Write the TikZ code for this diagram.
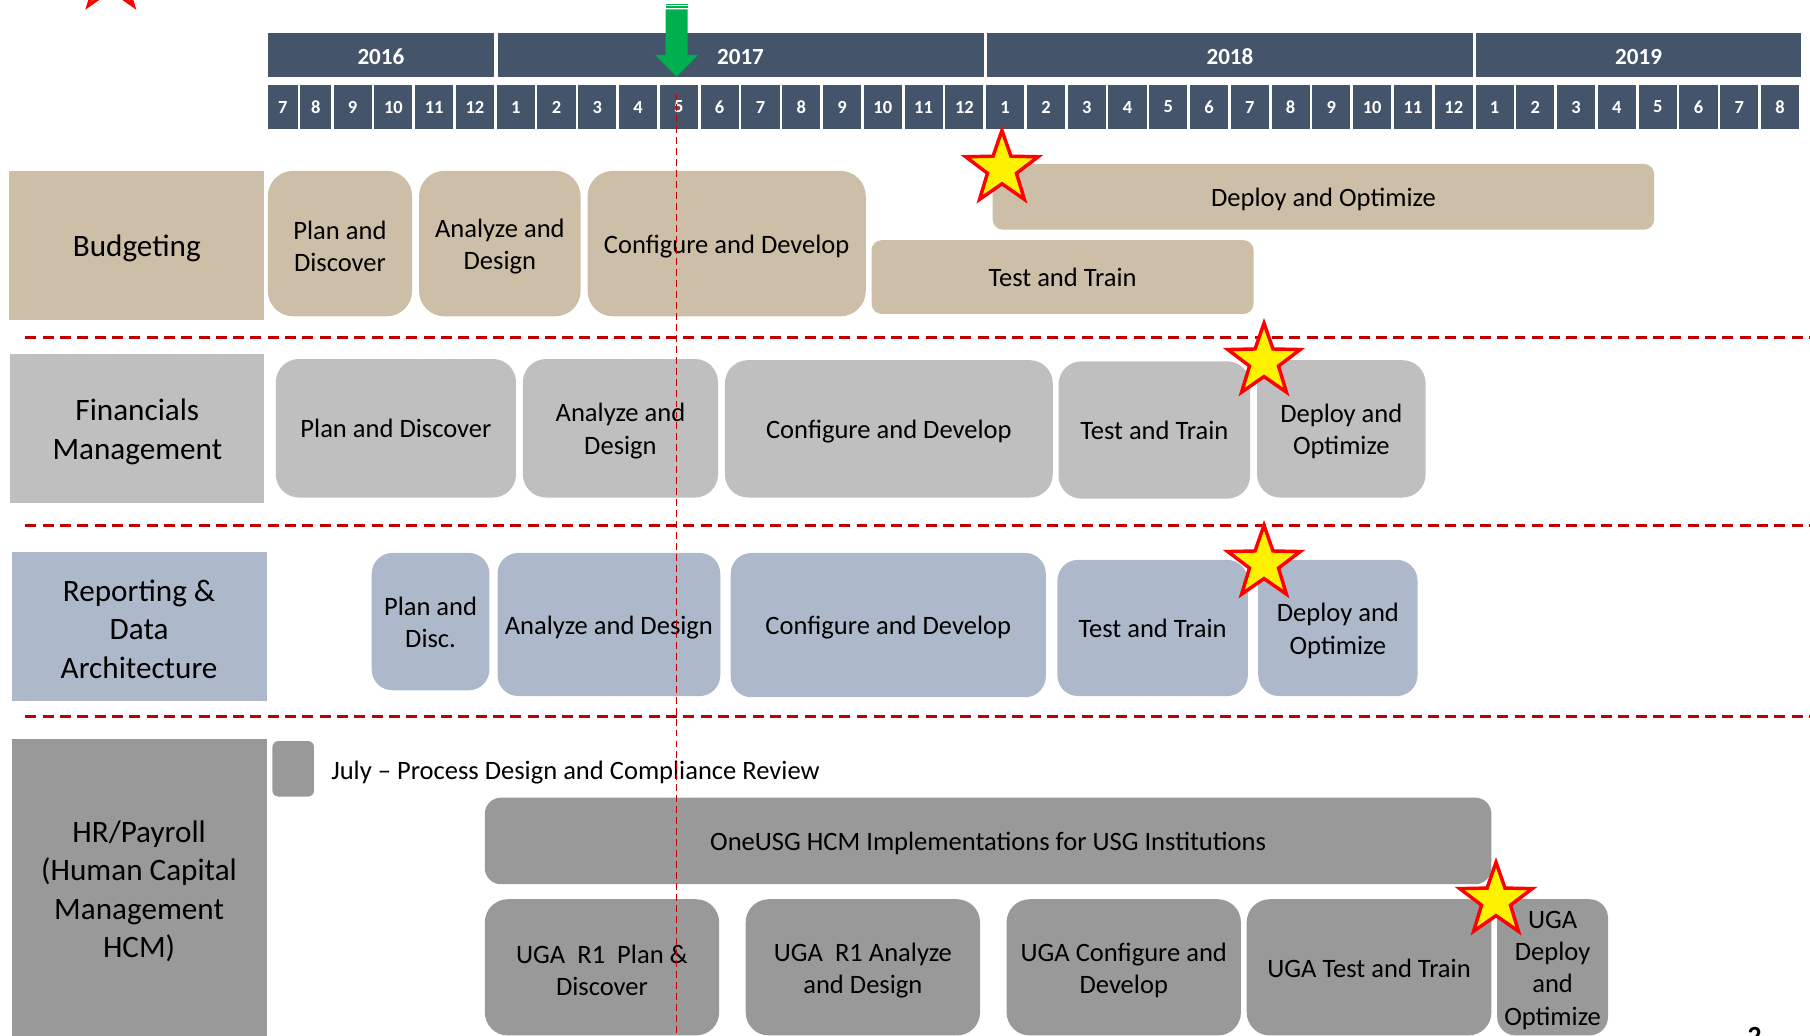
\documentclass[tikz,border=0pt]{standalone}
\usepackage{fontspec}
\setmainfont{Carlito}
\usetikzlibrary{shapes.geometric}
\definecolor{hdr}{HTML}{44546A}
\definecolor{tanc}{HTML}{CDBFA7}
\definecolor{finc}{HTML}{BFBFBF}
\definecolor{repc}{HTML}{ADB9CA}
\definecolor{hrc}{HTML}{999999}
\definecolor{dred}{HTML}{C00000}
\definecolor{grn}{HTML}{00B050}
% box node + text node shifted slightly down
\newcommand\bx[8]{\node[#2, minimum width={(#6-#4)*1pt}, minimum height={(#7-#5)*1pt}] (#1) at ({(#4+#6)/2},{(#5+#7)/2}) {};
  \node[#3] (#1t) at ({(#4+#6)/2},{(#5+#7)/2+2.5}) {#8};}
\begin{document}
\begin{tikzpicture}[x=1pt,y=-1pt,
  every node/.style={inner sep=0pt, outer sep=0pt},
  yr/.style={fill=hdr, text=white, font=\bfseries\fontsize{20}{24}\selectfont, text depth=0pt, text height=16pt},
  mc/.style={fill=hdr, text=white, font=\bfseries\fontsize{16}{19}\selectfont},
  cat/.style={align=center, font=\fontsize{27}{33.3}\selectfont},
  bt/.style={align=center, font=\fontsize{23}{28}\selectfont},
  bu/.style={bt, yshift=2pt},
  rb/.style={rounded corners=#1},
  starm/.style={star, star points=5, star point ratio=2.5, minimum size=66pt, fill=yellow, draw=red, line width=3pt},
  hdash/.style={dred, line width=2.5pt, dash pattern=on 9.5pt off 5.5pt},
  vdash/.style={dred, line width=1.3pt, dash pattern=on 6pt off 3.5pt}
]
\useasboundingbox (0,0) rectangle (1568,897);
\fill[white] (0,0) rectangle (1568,897);

% top-left partial star
\node[starm] (s0) at (96,-22) {};

% years
\node[yr, minimum width=196pt, minimum height=38pt] (y2016) at (330,48) {2016};
\node[yr, minimum width=421pt, minimum height=38pt] (y2017) at (641.5,48) {2017};
\node[yr, minimum width=421pt, minimum height=38pt] (y2018) at (1065.5,48) {2018};
\node[yr, minimum width=281pt, minimum height=38pt] (y2019) at (1419.5,48) {2019};

% months
\node[mc, minimum width=26pt, minimum height=37.5pt] (mJul) at (245,92.75) {7};
\node[mc, minimum width=27pt, minimum height=37.5pt] (mAug) at (273.5,92.75) {8};
\node[mc, minimum width=33pt, minimum height=37.5pt] (mSep) at (305.5,92.75) {9};
\foreach \k in {0,...,34}{
  \pgfmathtruncatemacro\mm{mod(\k+9,12)+1}
  \node[mc, minimum width=33pt, minimum height=37.5pt] (m\k) at ({340.8+35.33*\k},92.75) {\mm};
}

% green arrow (today marker)
\fill[grn] (576.6,3.5) rectangle (595.6,4.6);
\fill[grn] (576.6,5.6) rectangle (595.6,6.9);
\fill[grn] (576.6,8.2) -- (595.6,8.2) -- (595.6,47.6) -- (604.7,47.6) -- (586.1,66.4) -- (567.5,47.6) -- (576.6,47.6) -- cycle;

% categories
\bx{cBud}{fill=tanc}{cat}{8}{148}{229}{277}{Budgeting}
\bx{cFin}{fill=finc}{cat}{9}{307}{229}{436}{Financials\\Management}
\bx{cRep}{fill=repc}{cat}{10}{478}{231}{607}{Reporting \&\\Data\\Architecture}
\node[fill=hrc, minimum width=221pt, minimum height=262pt] (cHR) at (120.5,771) {};
\node[cat] (cHRt) at (120.5,772) {HR/Payroll\\(Human Capital\\Management\\HCM)};

% budgeting row
\bx{b1}{rb=22pt, fill=tanc}{bt}{232}{148}{357}{274}{Plan and\\Discover}
\bx{b2}{rb=22pt, fill=tanc}{bt}{363}{148}{503}{274}{Analyze and\\Design}
\bx{b3}{rb=22pt, fill=tanc}{bt}{509}{148}{750}{274}{Configure and Develop}
\bx{b4}{rb=9pt, fill=tanc}{bu}{755}{208}{1086}{272}{Test and Train}
\bx{b5}{rb=9pt, fill=tanc}{bt}{860}{142}{1433}{199}{Deploy and Optimize}

% financials row
\bx{f1}{rb=20pt, fill=finc}{bu}{239}{311}{447}{431}{Plan and Discover}
\bx{f2}{rb=20pt, fill=finc}{bt}{453}{311}{622}{431}{Analyze and\\Design}
\bx{f3}{rb=20pt, fill=finc}{bt}{628}{312}{912}{431}{Configure and Develop}
\bx{f4}{rb=20pt, fill=finc}{bu}{917}{313}{1083}{432}{Test and Train}
\bx{f5}{rb=20pt, fill=finc}{bt}{1089}{312}{1235}{431}{Deploy and\\Optimize}

% reporting row
\bx{r1}{rb=18pt, fill=repc}{bu}{322}{479}{424}{598}{Plan and\\Disc.}
\bx{r2}{rb=18pt, fill=repc}{bt}{431}{479}{624}{603}{Analyze and Design}
\bx{r3}{rb=18pt, fill=repc}{bt}{633}{479}{906}{604}{Configure and Develop}
\bx{r4}{rb=18pt, fill=repc}{bu}{916}{485}{1081}{603}{Test and Train}
\bx{r5}{rb=18pt, fill=repc}{bt}{1090}{485}{1228}{603}{Deploy and\\Optimize}

% HR row
\node[rb=5pt, fill=hrc, minimum width=36pt, minimum height=48pt] (h0) at (254,666) {};
\node[anchor=west, font=\fontsize{23}{28}\selectfont] (hjuly) at (287,669) {July – Process Design and Compliance Review};
\bx{h1}{rb=14pt, fill=hrc}{bt}{420}{691}{1292}{766}{OneUSG HCM Implementations for USG Institutions}
\bx{h2}{rb=20pt, fill=hrc}{bt}{420}{779}{623}{897}{UGA\ \ R1\ \ Plan \&\\Discover}
\bx{h3}{rb=20pt, fill=hrc}{bt}{646}{779}{849}{897}{UGA\ \ R1 Analyze\\and Design}
\bx{h4}{rb=20pt, fill=hrc}{bt}{872}{779}{1075}{897}{UGA Configure and\\Develop}
\bx{h5}{rb=20pt, fill=hrc}{bu}{1080}{779}{1292}{897}{UGA Test and Train}
\bx{h6}{rb=16pt, fill=hrc}{bt}{1297}{779}{1393}{897}{UGA\\Deploy\\and\\Optimize}

% separators
\coordinate (d1a) at (22,292); \coordinate (d1b) at (1568,292);
\coordinate (d2a) at (22,455); \coordinate (d2b) at (1568,455);
\coordinate (d3a) at (22,621); \coordinate (d3b) at (1568,621);
\draw[hdash] (d1a) -- (d1b);
\draw[hdash] (d2a) -- (d2b);
\draw[hdash] (d3a) -- (d3b);

% today line
\coordinate (ta) at (586,81); \coordinate (tb) at (586,897);
\draw[vdash] (ta) -- (tb);

% stars
\node[starm] (s1) at (868,146) {};
\node[starm] (s2) at (1095,313) {};
\node[starm] (s3) at (1095,488) {};
\node[starm] (s4) at (1296,780) {};

% page number
\node[font=\bfseries\fontsize{24}{28}\selectfont] (pg) at (1520,898) {2};
\end{tikzpicture}
\end{document}
